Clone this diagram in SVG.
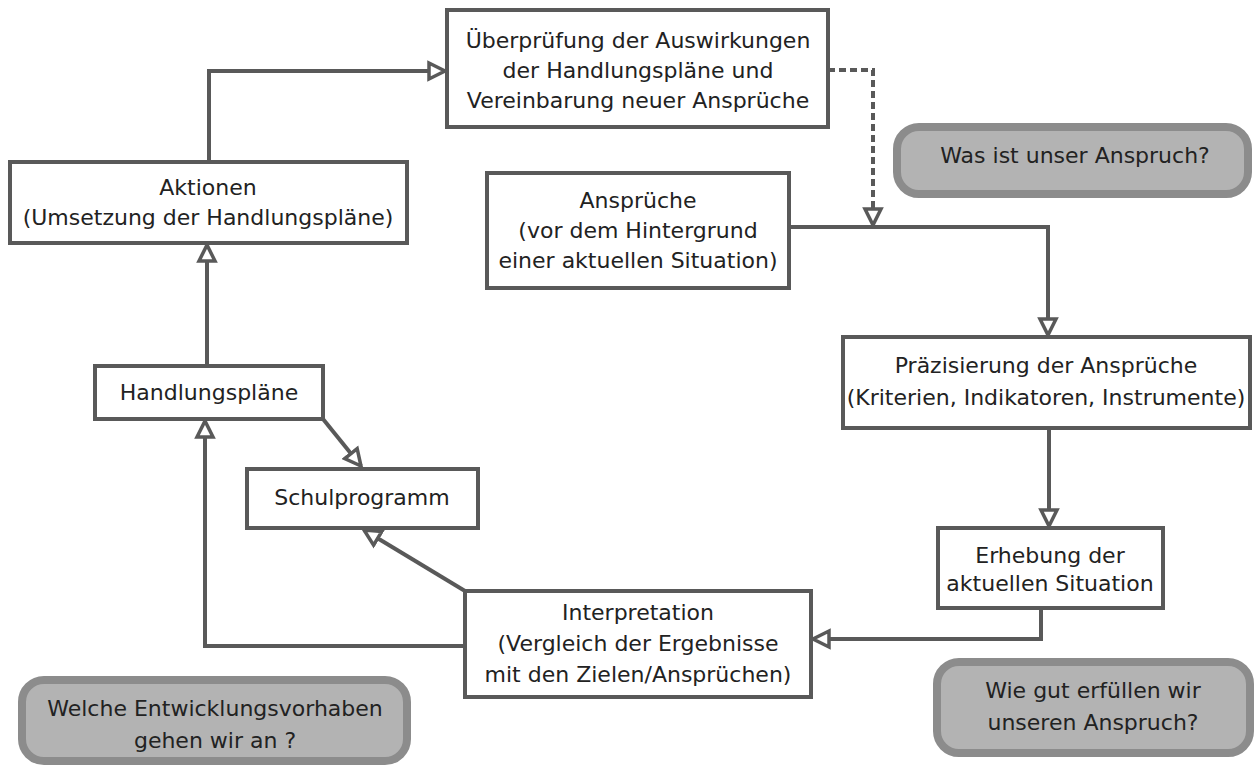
<svg xmlns="http://www.w3.org/2000/svg" width="1260" height="765" viewBox="0 0 1260 765">
<defs>
<style>
.box{fill:#fff;stroke:#595959;stroke-width:4}
.q{fill:#b3b3b3;stroke:#8c8c8c;stroke-width:8}
.t{font-family:"DejaVu Sans","Liberation Sans",sans-serif;font-size:22px;fill:#222;text-anchor:middle}
.c{fill:none;stroke:#595959;stroke-width:4}
.d{stroke-dasharray:7 4}
</style>
<marker id="ah" markerUnits="userSpaceOnUse" markerWidth="22" markerHeight="22" refX="18" refY="10" orient="auto" viewBox="0 0 22 20">
<path d="M2,2 L18,10 L2,18 Z" fill="#fff" stroke="#595959" stroke-width="3.5" stroke-linejoin="miter"/>
</marker>
</defs>
<rect width="1260" height="765" fill="#fff"/>
<g id="connectors">
<path class="c" d="M209,162 V71 H445" marker-end="url(#ah)"/>
<path class="c d" d="M828,70 H873 V225" marker-end="url(#ah)"/>
<path class="c" d="M789,227 H1048 V335" marker-end="url(#ah)"/>
<path class="c" d="M1049,428 V526" marker-end="url(#ah)"/>
<path class="c" d="M1041,608 V639 H813" marker-end="url(#ah)"/>
<path class="c" d="M465,646 H205 V421" marker-end="url(#ah)"/>
<path class="c" d="M465,591 L364,530" marker-end="url(#ah)"/>
<path class="c" d="M323,419 L361,466" marker-end="url(#ah)"/>
<path class="c" d="M207,366 V245" marker-end="url(#ah)"/>
</g>
<g id="ueberpruefung">
<rect class="box" x="447" y="10" width="381" height="117"/>
<text class="t" x="638" y="48">Überprüfung der Auswirkungen</text>
<text class="t" x="638" y="78">der Handlungspläne und</text>
<text class="t" x="638" y="108">Vereinbarung neuer Ansprüche</text>
</g>
<g id="aktionen">
<rect class="box" x="10" y="162" width="397" height="81"/>
<text class="t" x="208" y="195">Aktionen</text>
<text class="t" x="208" y="225">(Umsetzung der Handlungspläne)</text>
</g>
<g id="ansprueche">
<rect class="box" x="487" y="173" width="302" height="115"/>
<text class="t" x="638" y="208">Ansprüche</text>
<text class="t" x="638" y="238">(vor dem Hintergrund</text>
<text class="t" x="638" y="268">einer aktuellen Situation)</text>
</g>
<g id="frage1">
<rect class="q" x="897" y="127" width="351" height="67" rx="22"/>
<text class="t" x="1075" y="163">Was ist unser Anspruch?</text>
</g>
<g id="praezisierung">
<rect class="box" x="843" y="337" width="407" height="91"/>
<text class="t" x="1046" y="373">Präzisierung der Ansprüche</text>
<text class="t" x="1046" y="405">(Kriterien, Indikatoren, Instrumente)</text>
</g>
<g id="erhebung">
<rect class="box" x="938" y="528" width="225" height="80"/>
<text class="t" x="1050" y="563">Erhebung der</text>
<text class="t" x="1050" y="591">aktuellen Situation</text>
</g>
<g id="frage2">
<rect class="q" x="937" y="662" width="313" height="91" rx="22"/>
<text class="t" x="1093" y="698">Wie gut erfüllen wir</text>
<text class="t" x="1093" y="730">unseren Anspruch?</text>
</g>
<g id="interpretation">
<rect class="box" x="465" y="591" width="346" height="106"/>
<text class="t" x="638" y="620">Interpretation</text>
<text class="t" x="638" y="651">(Vergleich der Ergebnisse</text>
<text class="t" x="638" y="682">mit den Zielen/Ansprüchen)</text>
</g>
<g id="handlungsplaene">
<rect class="box" x="95" y="366" width="228" height="53"/>
<text class="t" x="209" y="400">Handlungspläne</text>
</g>
<g id="schulprogramm">
<rect class="box" x="247" y="469" width="231" height="59"/>
<text class="t" x="362" y="505">Schulprogramm</text>
</g>
<g id="frage3">
<rect class="q" x="22" y="680" width="385" height="81" rx="22"/>
<text class="t" x="215" y="716">Welche Entwicklungsvorhaben</text>
<text class="t" x="215" y="748">gehen wir an ?</text>
</g>
</svg>
